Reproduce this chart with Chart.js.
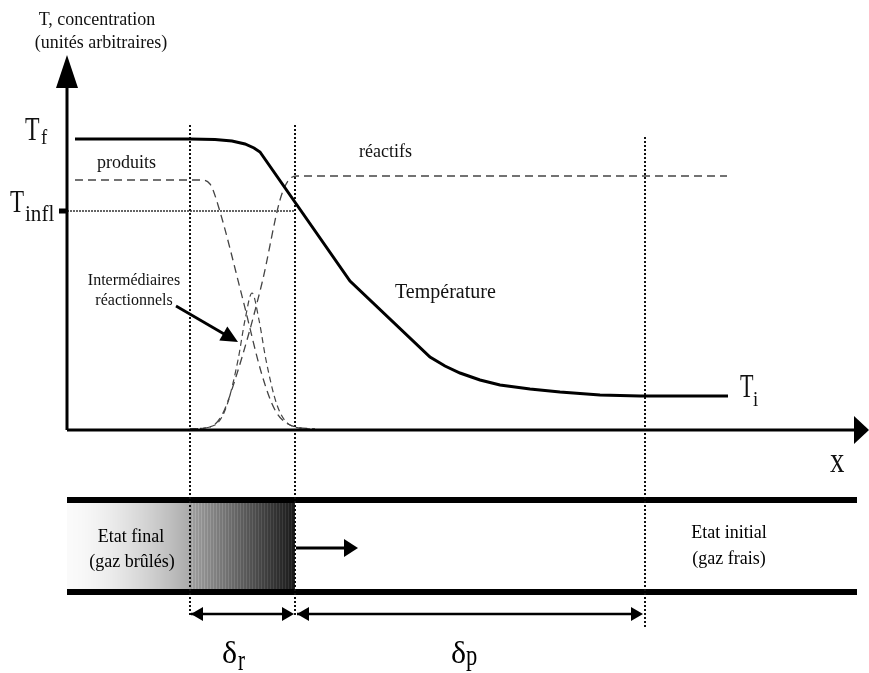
<!DOCTYPE html>
<html>
<head>
<meta charset="utf-8">
<script src="https://cdn.jsdelivr.net/npm/chart.js@4/dist/chart.umd.min.js"></script>
<style>
    body { margin: 0; background: #fff; }
    canvas { display: block; }
</style>
</head>
<body>
<canvas id="flammeChart" width="869" height="673"></canvas>
<script>

// ==========================
// DONNEES (unites arbitraires)
// ==========================

const xTemperature = [8, 123, 148, 165, 178, 187, 193, 283, 363, 378, 393, 413, 433, 463, 493, 533, 573, 661];
const yTemperature = [291, 291, 290.5, 289, 286, 282, 278, 149, 73, 64, 57, 50, 45, 41, 38, 35, 34, 34];

const xProduits = [8, 133, 143, 151, 176, 195, 208, 223, 248];
const yProduits = [250, 250, 246, 225, 130, 55, 20, 5, 1];

const xReactifs = [123, 143, 155, 168, 195, 213, 221, 230, 660];
const yReactifs = [1, 3, 15, 50, 147, 230, 249, 254, 254];

const xIntermediaires = [123, 148, 160, 171, 178, 185, 192, 199, 210, 223, 243];
const yIntermediaires = [1, 5, 25, 70, 110, 137, 110, 70, 25, 5, 1];

// T_f, T_infl, T_i
const tickValues = [291, 219, 34];
const tickSubs = ['f', 'infl', 'i'];

// debut zone de reaction, inflammation, fin zone de prechauffage
const zones = [123, 228, 578];

const serif = '"Liberation Serif", "Times New Roman", serif';

function pts(xs, ys) {
    return xs.map((x, i) => ({ x: x, y: ys[i] }));
}

function txt(ctx, s, x, y, size, sx, align) {
    ctx.save();
    ctx.font = size + 'px ' + serif;
    ctx.textAlign = align || 'left';
    ctx.textBaseline = 'alphabetic';
    ctx.translate(x, y);
    ctx.scale(sx || 1, 1);
    ctx.fillText(s, 0, 0);
    ctx.restore();
}

function head(ctx, tx, ty, ang, len, half) {
    ctx.save();
    ctx.translate(tx, ty);
    ctx.rotate(ang);
    ctx.beginPath();
    ctx.moveTo(0, 0);
    ctx.lineTo(-len, -half);
    ctx.lineTo(-len, half);
    ctx.closePath();
    ctx.fill();
    ctx.restore();
}

function arrow(ctx, x1, y1, x2, y2, w, len, half, both) {
    const ang = Math.atan2(y2 - y1, x2 - x1);
    ctx.save();
    ctx.lineWidth = w;
    ctx.beginPath();
    ctx.moveTo(x1, y1);
    ctx.lineTo(x2 - Math.cos(ang) * len * 0.8, y2 - Math.sin(ang) * len * 0.8);
    ctx.stroke();
    head(ctx, x2, y2, ang, len, half);
    if (both) head(ctx, x1, y1, ang + Math.PI, len, half);
    ctx.restore();
}

// ==========================
// DESSIN DU SCHEMA (axes, tube, legendes)
// ==========================

const schema = {

    id: 'schema',

    beforeDatasetsDraw(chart) {
        const ctx = chart.ctx;
        const X = v => chart.scales.x.getPixelForValue(v);
        const Y = v => chart.scales.y.getPixelForValue(v);
        const a = chart.chartArea;

        // tube
        const tubeTop = 500, tubeBot = 592;
        const xr = X(zones[0]), xf = X(zones[1]);
        for (let px = a.left; px < xf; px++) {
            let g;
            if (px < xr) {
                const t = (px - a.left) / (xr - a.left);
                g = 250 - Math.pow(t, 1.6) * 80;
            } else {
                const t = (px - xr) / (xf - xr);
                g = 160 - t * 135 + ((px % 3 === 0) ? 18 : 0);
            }
            g = Math.round(g);
            ctx.fillStyle = 'rgb(' + g + ',' + g + ',' + g + ')';
            ctx.fillRect(px, tubeTop, 1, tubeBot - tubeTop);
        }

        ctx.fillStyle = '#000';
        ctx.fillRect(a.left, tubeTop - 3, 857 - a.left, 6);
        ctx.fillRect(a.left, tubeBot - 3, 857 - a.left, 6);

        // pointilles verticaux
        ctx.save();
        ctx.strokeStyle = '#111';
        ctx.lineWidth = 2;
        ctx.setLineDash([2, 2]);
        const tops = [125, 125, 137];
        const bots = [617, 617, 628];
        zones.forEach((z, i) => {
            ctx.beginPath();
            ctx.moveTo(X(z), tops[i]);
            ctx.lineTo(X(z), bots[i]);
            ctx.stroke();
        });

        // T_infl
        ctx.strokeStyle = '#333';
        ctx.lineWidth = 1.6;
        ctx.setLineDash([2, 1]);
        ctx.beginPath();
        ctx.moveTo(a.left, Y(tickValues[1]));
        ctx.lineTo(X(zones[1]), Y(tickValues[1]));
        ctx.stroke();
        ctx.restore();
    },

    afterDatasetsDraw(chart) {
        const ctx = chart.ctx;
        const X = v => chart.scales.x.getPixelForValue(v);
        const Y = v => chart.scales.y.getPixelForValue(v);
        const a = chart.chartArea;

        ctx.save();
        ctx.fillStyle = '#000';
        ctx.strokeStyle = '#000';

        // axes
        ctx.lineWidth = 3;
        ctx.beginPath();
        ctx.moveTo(a.left, a.bottom);
        ctx.lineTo(a.left, 85);
        ctx.moveTo(a.left, a.bottom);
        ctx.lineTo(856, a.bottom);
        ctx.stroke();
        head(ctx, a.left, 55, -Math.PI / 2, 33, 11);
        head(ctx, 869, a.bottom, 0, 15, 14);

        // tiret T_infl
        ctx.fillRect(59, Y(tickValues[1]) - 2.5, 8, 5);

        // labels T
        ctx.fillStyle = '#111';
        txt(ctx, 'T', 25, Y(tickValues[0]) + 1, 34, 0.7);
        txt(ctx, tickSubs[0], 41, Y(tickValues[0]) + 5, 22, 0.85);
        txt(ctx, 'T', 10, Y(tickValues[1]) + 1, 32, 0.72);
        txt(ctx, tickSubs[1], 25, Y(tickValues[1]) + 10, 24, 0.88);
        txt(ctx, 'T', 740, Y(tickValues[2]) + 1, 34, 0.65);
        txt(ctx, tickSubs[2], 753, Y(tickValues[2]) + 10, 22, 0.85);
        txt(ctx, 'x', 830, 472, 36, 0.8);

        txt(ctx, 'T, concentration', 97, 25, 18, 1, 'center');
        txt(ctx, '(unités arbitraires)', 101, 48, 18, 1, 'center');

        txt(ctx, 'produits', 97, 168, 18);
        txt(ctx, 'réactifs', 359, 157, 18);
        txt(ctx, 'Température', 395, 298, 20);
        txt(ctx, 'Intermédiaires', 134, 285, 16, 1, 'center');
        txt(ctx, 'réactionnels', 134, 305, 16, 1, 'center');

        ctx.fillStyle = '#000';
        arrow(ctx, 176, 306, 238, 342, 2.8, 17, 8);

        // tube
        txt(ctx, 'Etat final', 131, 542, 18, 1, 'center');
        txt(ctx, '(gaz brûlés)', 132, 567, 18, 1, 'center');
        txt(ctx, 'Etat initial', 729, 538, 18, 1, 'center');
        txt(ctx, '(gaz frais)', 729, 564, 18, 1, 'center');

        ctx.fillStyle = '#000';
        arrow(ctx, X(zones[1]) + 1, 548, 358, 548, 3, 14, 9);

        // epaisseurs delta_r et delta_p
        arrow(ctx, X(zones[0]) + 1, 614, X(zones[1]) - 1, 614, 2.5, 12, 7, true);
        arrow(ctx, X(zones[1]) + 2, 614, X(zones[2]) - 2, 614, 2.5, 12, 7, true);
        txt(ctx, 'δ', 222, 663, 32, 1);
        txt(ctx, 'r', 238, 670, 30, 0.7);
        txt(ctx, 'δ', 451, 663, 32, 1);
        txt(ctx, 'p', 466, 665, 30, 0.75);

        ctx.restore();
    }

};

// ==========================
// GRAPHIQUE
// ==========================

new Chart(document.getElementById('flammeChart'), {

    type: 'line',

    data: {

        datasets: [

            {
                label: 'Température',
                data: pts(xTemperature, yTemperature),
                borderColor: '#000',
                borderWidth: 3,
                tension: 0
            },

            {
                label: 'produits',
                data: pts(xProduits, yProduits),
                borderColor: '#444',
                borderWidth: 1.3,
                borderDash: [8, 5],
                cubicInterpolationMode: 'monotone'
            },

            {
                label: 'réactifs',
                data: pts(xReactifs, yReactifs),
                borderColor: '#444',
                borderWidth: 1.3,
                borderDash: [8, 5],
                cubicInterpolationMode: 'monotone'
            },

            {
                label: 'Intermédiaires réactionnels',
                data: pts(xIntermediaires, yIntermediaires),
                borderColor: '#444',
                borderWidth: 1.2,
                borderDash: [6, 4],
                cubicInterpolationMode: 'monotone'
            }

        ]

    },

    options: {

        responsive: false,

        animation: false,

        layout: {
            padding: { left: 67, right: 0, top: 55, bottom: 243 }
        },

        elements: {
            point: { radius: 0 }
        },

        plugins: {
            legend: { display: false },
            tooltip: { enabled: false }
        },

        scales: {
            x: { type: 'linear', min: 0, max: 802, display: false },
            y: { type: 'linear', min: 0, max: 375, display: false }
        }

    },

    plugins: [schema]

});

</script>
</body>
</html>
